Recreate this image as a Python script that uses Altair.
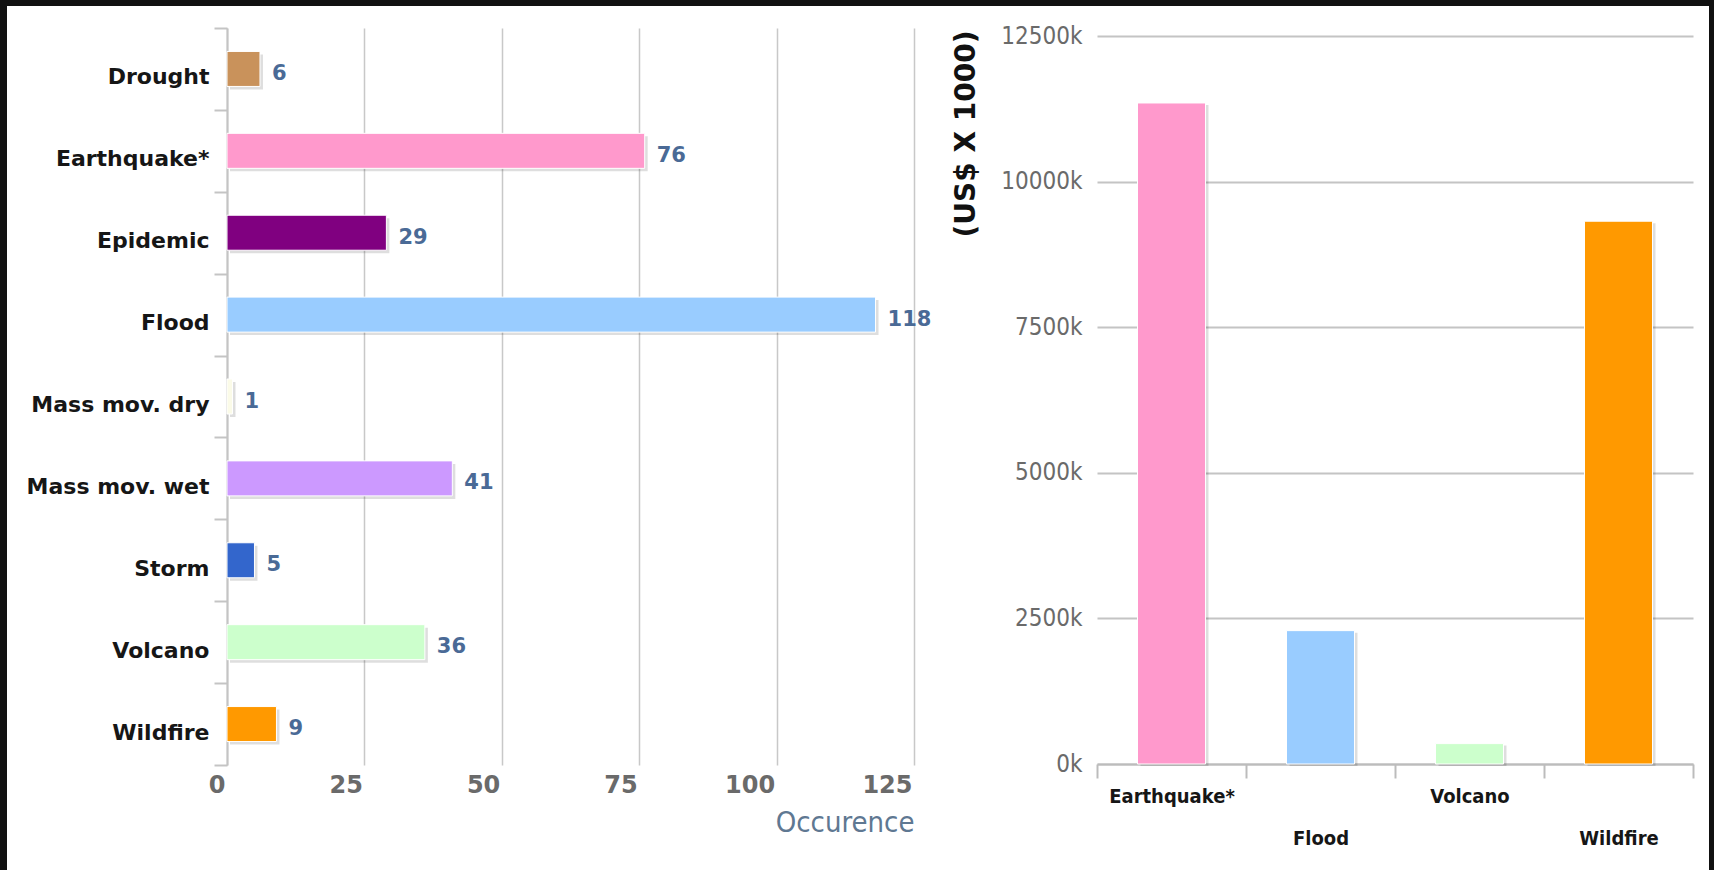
import altair as alt
import pandas as pd

# ---------------- data ----------------
occ_categories = ["Drought", "Earthquake*", "Epidemic", "Flood", "Mass mov. dry",
                  "Mass mov. wet", "Storm", "Volcano", "Wildfire"]
occ_values = [6, 76, 29, 118, 1, 41, 5, 36, 9]
occ_colors = ["#c9925b", "#ff99cc", "#800080", "#99ccff", "#fbfbe8",
              "#cc99ff", "#3366cc", "#ccffcc", "#ff9900"]
occ_ticks = [0, 25, 50, 75, 100, 125]

dmg_categories = ["Earthquake*", "Flood", "Volcano", "Wildfire"]
dmg_values = [11350000, 2290000, 350000, 9320000]
dmg_colors = ["#ff99cc", "#99ccff", "#ccffcc", "#ff9900"]
dmg_ticks = [0, 2500000, 5000000, 7500000, 10000000, 12500000]

occ_df = pd.DataFrame({"cat": occ_categories, "value": occ_values})
dmg_df = pd.DataFrame({"cat": dmg_categories, "value": dmg_values})

# ---------------- layout constants (pixels) ----------------
LW, LH = 687, 737
RW, RH = 596, 736
GAP = 183
COND = "DejaVu Sans Condensed, Liberation Sans Narrow, DejaVu Sans"

one = alt.Data(values=[{}])


def strip(x, x2, y, y2):
    return alt.Chart(one).mark_rect(color="#111111").encode(
        x=alt.value(x), x2=alt.value(x2), y=alt.value(y), y2=alt.value(y2))


# ---------------- left chart: occurrence ----------------
lbase = alt.Chart(occ_df).encode(
    y=alt.Y("cat:N", sort=occ_categories, title=None,
            scale=alt.Scale(domain=occ_categories, paddingInner=0, paddingOuter=0),
            axis=alt.Axis(domain=True, domainColor="#c4c4c4", domainWidth=2,
                          ticks=True, tickBand="extent", tickSize=13,
                          tickColor="#c4c4c4", tickWidth=2,
                          labelFont="DejaVu Sans", labelFontWeight="bold",
                          labelFontSize=22, labelColor="#161616", labelLimit=400,
                          labelPadding=5, labelOffset=8, grid=False)),
    x=alt.X("value:Q",
            scale=alt.Scale(domain=[0, 125], nice=False, zero=True),
            axis=alt.Axis(values=occ_ticks, grid=True, gridColor="#c8c8c8",
                          gridWidth=1.5, domain=False, ticks=False,
                          labelFont="DejaVu Sans", labelFontWeight="bold",
                          labelFontSize=24, labelColor="#6a6a6a",
                          labelAlign="right", labelOffset=-2, labelBaseline="middle",
                          labelPadding=20,
                          title="Occurence", titleFont=COND,
                          titleFontWeight="normal", titleFontSize=29,
                          titleColor="#5f7892", titleX=LW, titleY=57,
                          titleAlign="right", titleBaseline="middle")),
)

l_shadow = lbase.mark_bar(size=35, color="#000000", opacity=0.13,
                          xOffset=3, yOffset=3)
l_bars = lbase.mark_bar(size=35, stroke="#ffffff", strokeWidth=1).encode(
    color=alt.Color("cat:N", scale=alt.Scale(domain=occ_categories, range=occ_colors),
                    legend=None))
l_text = lbase.mark_text(align="left", baseline="middle", dx=12, dy=5,
                         font="DejaVu Sans", fontWeight="bold", fontSize=21,
                         color="#4a6a96").encode(text=alt.Text("value:Q"))

left = alt.layer(
    strip(-227, LW + GAP // 2 + 1, -28, -22),
    strip(-227, -220, -28, 842),
    l_shadow, l_bars, l_text,
).properties(width=LW, height=LH)

# ---------------- right chart: damage ----------------
ytop = 12500000 * RH / 728.0
rbase = alt.Chart(dmg_df).encode(
    x=alt.X("cat:N", sort=dmg_categories, title=None,
            scale=alt.Scale(domain=dmg_categories, paddingInner=0, paddingOuter=0),
            axis=alt.Axis(labelAngle=0, domain=True, domainColor="#bcbcbc",
                          domainWidth=2, ticks=True, tickBand="extent",
                          tickSize=14, tickColor="#bcbcbc", tickWidth=2,
                          labelFont=COND, labelFontWeight="bold", labelFontSize=20,
                          labelColor="#161616", labelBaseline="top", labelLimit=400,
                          labelPadding=8, labelLineHeight=42,
                          labelExpr="(datum.value == 'Flood' || datum.value == 'Wildfire') ? ['', datum.label] : datum.label",
                          grid=False)),
    y=alt.Y("value:Q",
            scale=alt.Scale(domain=[0, ytop], nice=False, zero=True),
            axis=alt.Axis(values=dmg_ticks, grid=True, gridColor="#c4c4c4",
                          gridWidth=2, domain=False, ticks=False,
                          labelExpr="format(datum.value / 1000, 'd') + 'k'",
                          labelFont=COND, labelFontSize=24, labelColor="#6a6a6a",
                          labelPadding=15, labelBaseline="middle",
                          title="(US$ X 1000)", titleFont="DejaVu Sans",
                          titleFontWeight="bold", titleFontSize=28,
                          titleColor="#111111", titleAngle=270, titleLimit=400,
                          titleAlign="right", titleBaseline="middle",
                          titleX=-131, titleY=2)),
)

r_shadow = rbase.mark_bar(size=68, color="#000000", opacity=0.13,
                          xOffset=3, yOffset=2)
r_bars = rbase.mark_bar(size=68, stroke="#ffffff", strokeWidth=1).encode(
    color=alt.Color("cat:N", scale=alt.Scale(domain=dmg_categories, range=dmg_colors),
                    legend=None))

right = alt.layer(
    strip(-GAP // 2 - 1, RW + 21, -28, -22),
    strip(RW + 16, RW + 21, -28, 842),
    r_shadow, r_bars,
).properties(width=RW, height=RH)

chart = alt.hconcat(left, right, spacing=GAP, bounds="flush").resolve_scale(
    x="independent", y="independent", color="independent"
).properties(
    background="#ffffff", padding=0
).configure_view(stroke=None)

chart.save("out.html", embed_options={"renderer": "svg", "actions": False})
